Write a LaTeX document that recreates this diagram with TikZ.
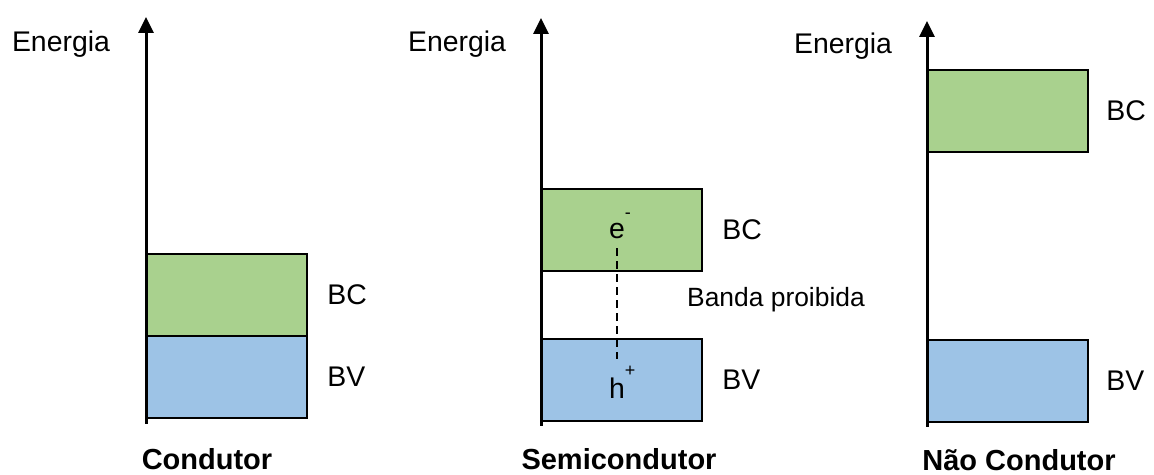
\documentclass[tikz,border=0pt]{standalone}
\usepackage{fontspec}
\setmainfont{Liberation Sans}
\usetikzlibrary{positioning, calc, arrows.meta}

\definecolor{bandgreen}{HTML}{A9D18E}
\definecolor{bandblue}{HTML}{9DC3E6}

\newcommand{\highmark}[2]{\rlap{\raisebox{#1}{\fontsize{9}{9}\selectfont #2}}}

\begin{document}
\begin{tikzpicture}[x=5pt, y=5pt, >={Triangle[length=8pt, width=7.5pt]},
    band/.style={draw=black, line width=1pt, anchor=south west, minimum width=80pt, minimum height=41pt, inner sep=0pt, outer sep=0pt},
    lbl/.style={font=\fontsize{14.2}{16}\selectfont, inner sep=0pt},
    small/.style={font=\fontsize{13.2}{15}\selectfont, inner sep=0pt},
    title/.style={font=\fontsize{14.5}{17}\selectfont\bfseries, inner sep=0pt, anchor=base},
    axis/.style={->, line width=1.5pt}]
    \useasboundingbox (0,0) rectangle (115.4,47.5);

    % Condutor
    \coordinate (bot1) at (14.6,5.1);
    \coordinate (top1) at (14.6,45.8);
    \node[band, fill=bandblue] (bv1) at (14.7,5.7) {};
    \node[band, fill=bandgreen] (bc1) at (bv1.north west) {};
    \draw[axis] (bot1) -- (top1);
    \node[lbl] (en1) at (6.1,43.1) {Energia};
    \node[lbl, right=10pt of bc1] (bclbl1) {BC};
    \node[lbl, right=10pt of bv1] (bvlbl1) {BV};
    \node[title] (cond) at (20.7,0.5) {Condutor};

    % Semicondutor
    \coordinate (bot2) at (54.1,4.9);
    \coordinate (top2) at (54.1,45.7);
    \node[band, fill=bandblue] (bv2) at (54.2,5.4) {};
    \node[band, fill=bandgreen] (bc2) at (54.2,20.4) {};
    \draw[axis] (bot2) -- (top2);
    \node[lbl] (en2) at (45.7,43.1) {Energia};
    \node[lbl, right=10pt of bc2] (bclbl2) {BC};
    \node[lbl, right=10pt of bv2] (bvlbl2) {BV};
    \node[small] (gap) at (77.6,17.5) {Banda proibida};
    \node[lbl, inner sep=3pt] (elec) at (61.7,24.9) {e\highmark{10pt}{-}};
    \node[lbl, inner sep=3pt] (hole) at (61.7,9.3) {h\highmark{11pt}{+}};
    \draw[dashed, dash pattern=on 4pt off 2.5pt, line width=0.6pt, shorten <=1.5pt] (elec.south) -- (hole.north);
    \node[title] (semi) at (61.9,0.5) {Semicondutor};

    % Nao condutor
    \coordinate (bot3) at (92.7,4.8);
    \coordinate (top3) at (92.7,45.4);
    \node[band, fill=bandblue] (bv3) at (92.8,5.3) {};
    \node[band, fill=bandgreen] (bc3) at (92.8,32.3) {};
    \draw[axis] (bot3) -- (top3);
    \node[lbl] (en3) at (84.3,42.9) {Energia};
    \node[lbl, right=9pt of bc3] (bclbl3) {BC};
    \node[lbl, right=9pt of bv3] (bvlbl3) {BV};
    \node[title] (isol) at (101.9,0.4) {Não Condutor};
\end{tikzpicture}
\end{document}
